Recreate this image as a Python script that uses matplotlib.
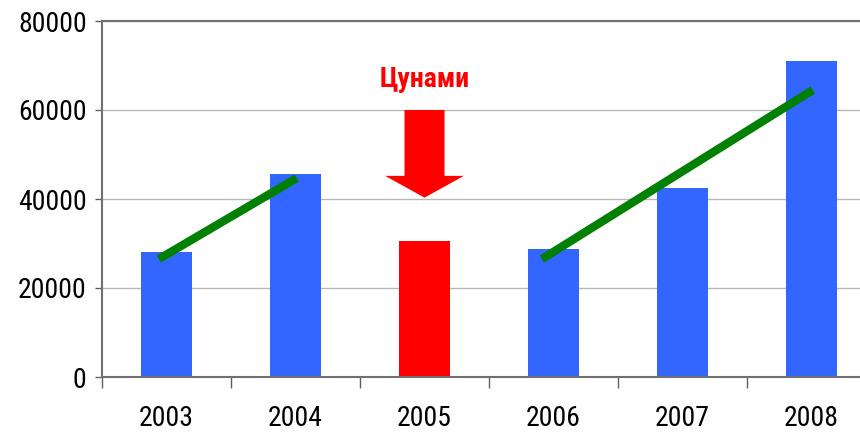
import numpy as np
import matplotlib.pyplot as plt

# data
years = ['2003', '2004', '2005', '2006', '2007', '2008']
values = [28000, 45600, 30600, 28800, 42400, 71000]
bar_colors = ['#3366ff', '#3366ff', '#ff0000', '#3366ff', '#3366ff', '#3366ff']

# green trend segments (x in category index, y in value)
trend1_x = [-0.06, 1.01]
trend1_y = [26500, 44700]
trend2_x = [2.91, 5.01]
trend2_y = [26500, 64500]

# tsunami arrow and label
arrow_x = 2
arrow_top = 60000
arrow_tip = 40300
arrow_label = 'Цунами'
label_y = 66800

plt.rcParams['font.family'] = ['Roboto Condensed', 'DejaVu Sans']

fig = plt.figure(figsize=(8.6, 4.37), dpi=100)
ax = fig.add_axes([102 / 860, 1 - 377 / 437, 774 / 860, 356 / 437])

x = np.arange(len(years))
ax.bar(x, values, width=0.4, color=bar_colors, zorder=2)

ax.plot(trend1_x, trend1_y, color='#008000', lw=6, solid_capstyle='butt', zorder=3)
ax.plot(trend2_x, trend2_y, color='#008000', lw=6, solid_capstyle='butt', zorder=3)

# vertical arrow: width in x units, head length in y units
ax.arrow(arrow_x, arrow_top, 0, arrow_tip - arrow_top, width=0.31, head_width=0.61,
         head_length=4900, length_includes_head=True, color='#ff0000', lw=0, zorder=3)
ax.text(arrow_x, label_y, arrow_label, color='#ff0000', fontsize=20, fontweight='bold',
        ha='center', va='center', zorder=4)

ax.set_xlim(-0.5, 5.5)
ax.set_ylim(0, 80000)
ax.set_yticks([0, 20000, 40000, 60000, 80000])
ax.set_yticklabels(['0', '20000', '40000', '60000', '80000'], fontsize=20)
ax.yaxis.grid(True, color='#b8b8b8', lw=1, zorder=0)
ax.tick_params(axis='y', length=5, width=1, color='#606060', pad=6)

ax.set_xticks(np.arange(-0.5, 6, 1))
ax.set_xticklabels([])
ax.set_xticks(x, minor=True)
ax.set_xticklabels(years, minor=True, fontsize=20)
ax.tick_params(axis='x', which='major', length=8, width=1, color='#606060')
ax.tick_params(axis='x', which='minor', length=0, pad=20)

for side in ['left', 'bottom', 'top']:
    ax.spines[side].set_color('#707070')
    ax.spines[side].set_linewidth(1.5)
ax.spines['right'].set_visible(False)

fig.savefig('out.png', dpi=100)
